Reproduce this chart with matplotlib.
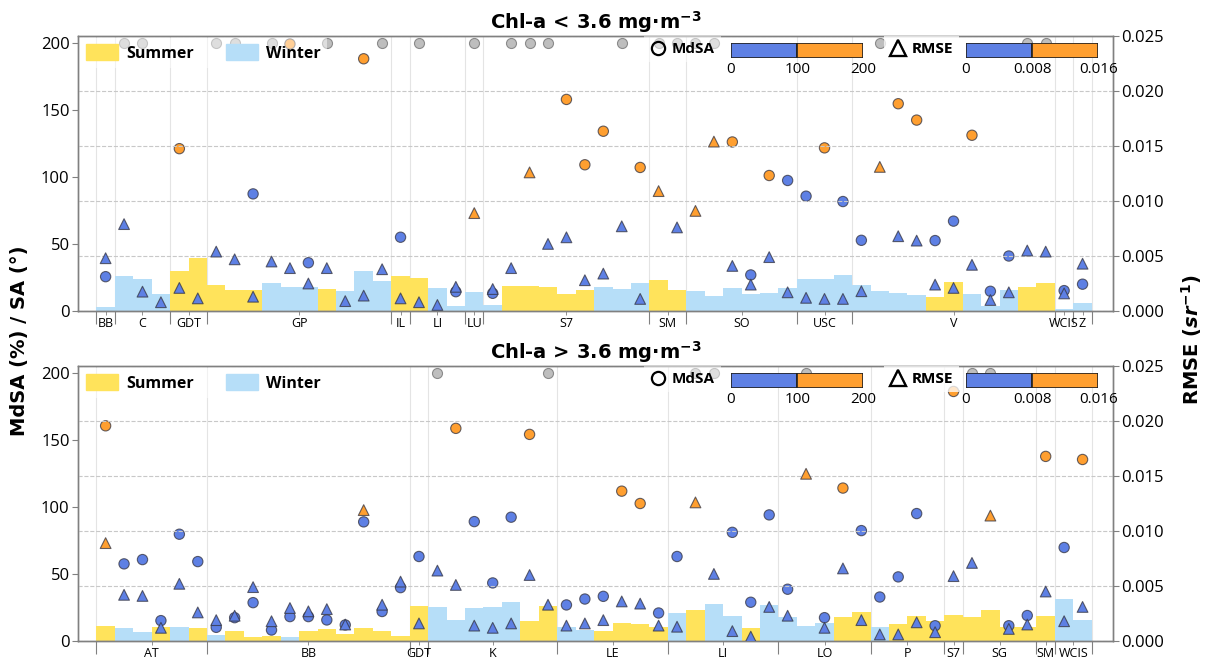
import numpy as np
import matplotlib.pyplot as plt
from matplotlib.patches import Patch
from matplotlib.lines import Line2D

plt.rcParams['font.family'] = ['Open Sans', 'DejaVu Sans']
plt.rcParams['mathtext.fontset'] = 'custom'
plt.rcParams['mathtext.rm'] = 'DejaVu Sans:bold'
plt.rcParams['mathtext.it'] = 'DejaVu Sans:italic:bold'
plt.rcParams['mathtext.bf'] = 'DejaVu Sans:bold'

OVER = np.inf   # MdSA off the scale (> 200 %), drawn as a grey dot on the top edge
NA = np.nan     # no MdSA value

# ---------------- Chl-a < 3.6 mg m-3 ----------------
top_sites = ['BB', 'C', 'GDT', 'GP', 'IL', 'LI', 'LU', 'S7', 'SM', 'SO', 'USC', 'V', 'WCIS', 'Z']
top_counts = [1, 3, 2, 10, 1, 3, 1, 9, 2, 6, 3, 11, 1, 1]
top_season = list('WWWW' 'SSSSS' 'WWW' 'S' 'WWW' 'SS' 'WWWW' 'SSSSS' 'WWW' 'SS'
                  'WWWWWWWWWWWWW' 'SS' 'WWW' 'SS' 'WW')
top_sa = [2.7, 26, 24, 13, 29.6, 39.5, 19.4, 15.4, 15.4, 20.9, 17.9, 17.9, 16.4, 15,
          30, 22.6, 26, 24.6, 17, 3.7, 14, 4.5, 19, 18.4, 18, 13, 16, 17.9,
          16.4, 20.9, 23, 15.4, 15, 11.4, 17, 13, 13.7, 17.4, 23.6, 24, 26.6, 19.7,
          15, 13.4, 11.7, 10.4, 22, 12.7, 3.7, 15.4, 17.9, 20.6, 1.5, 6]
top_mdsa = [25.6, OVER, OVER, NA, 121, NA, OVER, OVER, 87.3, OVER, 199, 36, OVER, NA,
            188, OVER, 55, OVER, NA, 14.4, OVER, 13.2, OVER, OVER, OVER, 157.7, 109, 134,
            OVER, 107, OVER, OVER, OVER, OVER, 126, 26.9, 101, 97.3, 85.6, 121.6, 81.6, 52.7,
            OVER, 154.5, 142.3, 52.5, 67, 131, 14.7, 41, OVER, OVER, 15.2, 20]
top_rmse = [0.0048, 0.0079, 0.00176, 0.0008, 0.0021, 0.00115, 0.0054, 0.0047, 0.0013,
            0.0045, 0.0039, 0.0025, 0.0039, 0.0009, 0.0014, 0.0038, 0.00115, 0.0008,
            0.00055, 0.0022, 0.0089, 0.002, 0.0039, 0.0126, 0.0061, 0.0067, 0.0028,
            0.0034, 0.0077, 0.0011, 0.0109, 0.0076, 0.0091, 0.0154, 0.0041, 0.0024,
            0.0049, 0.0017, 0.0012, 0.0011, 0.0011, 0.0018, 0.0131, 0.0068, 0.0064,
            0.0024, 0.0021, 0.0042, 0.001, 0.0017, 0.0055, 0.0054, 0.0016, 0.0043]

# ---------------- Chl-a > 3.6 mg m-3 ----------------
bot_sites = ['AT', 'BB', 'GDT', 'K', 'LE', 'LI', 'LO', 'P', 'S7', 'SG', 'SM', 'WCIS']
bot_counts = [6, 11, 1, 7, 6, 6, 5, 4, 1, 4, 1, 2]
bot_season = list('S' 'WW' 'S' 'W' 'S' 'W' 'SSS' 'W' 'SSSSSSS' 'WWWWW' 'SS' 'WW' 'SSSS'
                  'W' 'S' 'WW' 'S' 'WWWW' 'SS' 'W' 'SSSSSSSSS' 'WW')
bot_sa = [11.4, 9.7, 7, 10.2, 10.4, 9.7, 4.7, 7.5, 3, 4, 3, 7.5, 9, 5.5,
          9.7, 7.5, 3.7, 26, 25, 16, 24.4, 25.4, 28.9, 15, 26, 10.4, 8, 7.7,
          13.7, 12.7, 10.4, 20.9, 23, 27.4, 18.7, 10, 26.6, 18.2, 11.4, 13.2, 17.9, 22,
          10.4, 12.7, 18.4, 14.7, 19.7, 17.9, 23, 10.2, 10.4, 18.7, 31, 16]
bot_mdsa = [160.4, 57.5, 60.7, 15.2, 79.6, 59.2, 10.2, 17.4, 28.6, 8.2, 18.2, 18.2, 15.7, 12,
            88.8, 22, 39.8, 63, OVER, 158.5, 89, 43.3, 92.3, 154, OVER, 26.9, 31.3, 33.3,
            111.7, 102.5, 20.9, 63, OVER, OVER, 81, 28.9, 94, 38.6, OVER, 17.4, 114, 82.3,
            32.8, 47.8, 95, 11.4, 186, OVER, OVER, 11.4, 19, 137.6, 69.7, 135.3]
bot_rmse = [0.0089, 0.0042, 0.0041, 0.0012, 0.0052, 0.0026, 0.0019, 0.0023, 0.0049,
            0.0018, 0.003, 0.0027, 0.0029, 0.0015, 0.0119, 0.0033, 0.0054, 0.0016,
            0.0064, 0.0051, 0.0014, 0.0012, 0.0016, 0.006, 0.0033, 0.0014, 0.0016,
            0.0019, 0.0036, 0.0034, 0.0014, 0.0013, 0.0126, 0.0061, 0.0009, 0.0004,
            0.0031, 0.0023, 0.0152, 0.0012, 0.0066, 0.0019, 0.0006, 0.0006, 0.0017,
            0.0008, 0.0059, 0.0071, 0.0114, 0.0011, 0.0015, 0.0045, 0.0018, 0.0031]

SUMMER = '#FFE35B'
WINTER = '#B6DEF8'
BLUE = '#5E80E4'
ORANGE = '#FF9F30'
GREY = '#BEBEBE'
EDGE = (0.2, 0.2, 0.25, 0.75)
SPINE = '#808080'


def panel(ax, title, sites, counts, season, sa, mdsa, rmse):
    x = np.arange(len(sa))
    mdsa = np.asarray(mdsa, float)
    rmse = np.asarray(rmse, float)

    ax.bar(x, sa, width=1.0, color=[SUMMER if s == 'S' else WINTER for s in season],
           linewidth=0, zorder=2)

    # MdSA circles: blue < 100, orange 100-200, grey dot on top if off scale
    over = mdsa > 200
    ax.scatter(x[over], np.full(over.sum(), 200.0), s=52, c=GREY, edgecolors='#8a8a8a',
               linewidths=0.8, zorder=3)
    ok = ~over & ~np.isnan(mdsa)
    ax.scatter(x[ok], mdsa[ok], s=55, c=np.where(mdsa[ok] >= 100, ORANGE, BLUE),
               edgecolors=[EDGE], linewidths=0.8, zorder=4)

    ax.set_xlim(-1.5, len(sa) + 0.65)
    ax.set_ylim(0, 205)
    ax.set_yticks([0, 50, 100, 150, 200])
    ax.tick_params(axis='y', labelsize=12, length=4, color=SPINE, pad=2)

    edges = np.concatenate([[0], np.cumsum(counts)]) - 0.5
    centers = (edges[:-1] + edges[1:]) / 2
    ax.set_xticks(edges)
    ax.set_xticklabels([])
    ax.set_xticks(centers, minor=True)
    ax.set_xticklabels(sites, minor=True)
    ax.tick_params(axis='x', which='major', length=9, color=SPINE)
    ax.tick_params(axis='x', which='minor', length=3, color=SPINE, labelsize=9, pad=1)
    ax.grid(axis='x', which='major', color='#e4e4e4', lw=0.8)
    ax.set_axisbelow(True)
    ax.set_title(title, fontsize=14, fontweight='bold', family='DejaVu Sans', pad=5)

    leg = ax.legend(handles=[Patch(color=SUMMER), Patch(color=WINTER)],
                    labels=['Summer', 'Winter'], loc='upper left', ncol=2,
                    prop=dict(weight='bold', size=11.5), handlelength=2.0,
                    handleheight=1.2, handletextpad=0.5, columnspacing=2.0,
                    borderaxespad=0.1, framealpha=0.5, edgecolor='none', fancybox=False)
    leg.set_zorder(10)

    # RMSE triangles on the right axis
    ax2 = ax.twinx()
    ax2.scatter(x, rmse, marker='^', s=60,
                c=np.where(rmse >= 0.008, ORANGE, BLUE),
                edgecolors=[EDGE], linewidths=0.8, zorder=5)
    ax2.set_ylim(0, 0.025)
    ax2.set_yticks(np.arange(0, 0.0251, 0.005))
    ax2.set_yticklabels([f'{v:.3f}' for v in np.arange(0, 0.0251, 0.005)])
    ax2.tick_params(axis='y', labelsize=12, length=4, color=SPINE, pad=2)
    ax2.grid(axis='y', ls='--', color='#c8c8c8', lw=0.8)
    ax2.set_axisbelow(True)

    for a in (ax, ax2):
        for sp in a.spines.values():
            sp.set_color(SPINE)
            sp.set_linewidth(1.0)

    # marker keys with two-colour scales
    keys = [('o', 'MdSA', 0.547, 0.631, 200, ['0', '100', '200'], 9.5),
            ('^', 'RMSE', 0.779, 0.858, 0.016, ['0', '0.008', '0.016'], 11)]
    for mk, name, lx, bx, top, labs, ms in keys:
        kl = ax2.legend(handles=[Line2D([], [], marker=mk, ls='none', mfc='none', mec='k',
                                        mew=1.6, ms=ms)],
                        labels=[name], loc='upper left', bbox_to_anchor=(lx, 1.0),
                        borderaxespad=0, handlelength=1.0, handletextpad=0.4,
                        prop=dict(weight='bold', size=11), framealpha=0.5,
                        edgecolor='none', fancybox=False)
        ax2.add_artist(kl)
        ia = ax2.inset_axes([bx, 0.919, 0.1278, 0.0545])
        ia.barh([0, 0], [top / 2, top / 2], left=[0, top / 2], height=1.0,
                color=[BLUE, ORANGE], edgecolor='#222222', linewidth=1.2)
        ia.set_xlim(0, top)
        ia.set_ylim(-0.5, 0.5)
        ia.set_xticks([0, top / 2, top])
        ia.set_xticklabels(labs)
        ia.set_yticks([])
        ia.tick_params(axis='x', length=0, labelsize=11, pad=3)
        for sp in ia.spines.values():
            sp.set_visible(False)
        ia.patch.set_visible(False)


fig = plt.figure(figsize=(12.07, 6.66), dpi=100)
ax_top = fig.add_axes([0.0646, 0.533, 0.8575, 0.413])
ax_bot = fig.add_axes([0.0646, 0.0375, 0.8575, 0.413])

panel(ax_top, 'Chl-a < 3.6 mg·m$^{-3}$', top_sites, top_counts, top_season,
      top_sa, top_mdsa, top_rmse)
panel(ax_bot, 'Chl-a > 3.6 mg·m$^{-3}$', bot_sites, bot_counts, bot_season,
      bot_sa, bot_mdsa, bot_rmse)

fig.text(0.016, 0.488, 'MdSA (%) / SA (°)', rotation=90, ha='center', va='center',
         fontsize=14, fontweight='bold', family='DejaVu Sans')
fig.text(0.987, 0.49, 'RMSE ($sr^{-1}$)', rotation=90, ha='center', va='center',
         fontsize=14, fontweight='bold', family='DejaVu Sans')

fig.savefig('out.png', dpi=100)
